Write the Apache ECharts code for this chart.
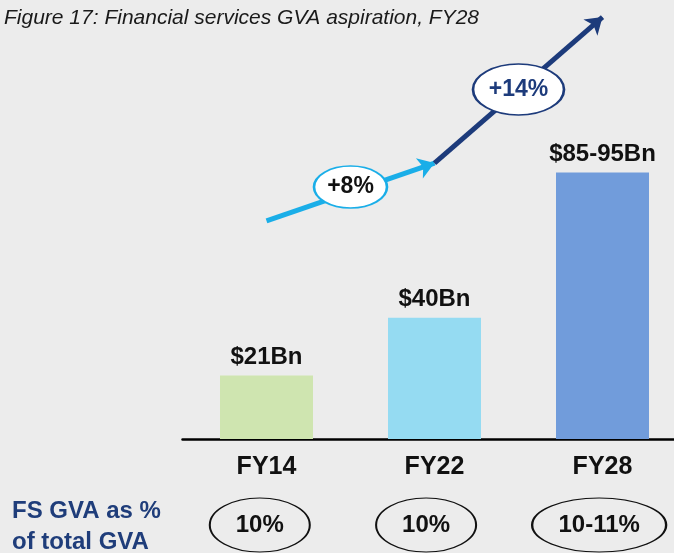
<!DOCTYPE html>
<html>
<head>
<meta charset="utf-8">
<script src="https://cdn.jsdelivr.net/npm/echarts@6/dist/echarts.min.js"></script>
<style>
html,body{margin:0;padding:0;background:#ececec;}
#chart{width:674px;height:553px;}
</style>
</head>
<body>
<div id="chart"></div>
<script>
// ---- data ----
const titleText = 'Figure 17: Financial services GVA aspiration, FY28';
const categories = ['FY14', 'FY22', 'FY28'];
const gvaValues = [21, 40, 88];
const gvaLabels = ['$21Bn', '$40Bn', '$85-95Bn'];
const barColors = ['#cfe5b0', '#95dbf2', '#719cdb'];
const shareLabels = ['10%', '10%', '10-11%'];
const shareX = [-0.04, 0.95, 1.98];
const shareY = -28.4;
const rowLabel = 'FS GVA as %\nof total GVA';
const arrowPoints = [[0, 72], [1, 91.1], [2, 139.3]];
const growthLabels = ['+8%', '+14%'];
const growthPoints = [[0.5, 83.2], [1.5, 115.4]];
const growthColors = ['#1aaee8', '#1d3b7b'];
const growthTextColors = ['#111111', '#1d3b7b'];

const FONT = '"Liberation Sans", Arial, sans-serif';
const chart = echarts.init(document.getElementById('chart'));

const option = {
  backgroundColor: '#ececec',
  animation: false,
  title: {
    text: titleText,
    left: -1,
    top: 3,
    textStyle: { fontFamily: FONT, fontSize: 21, fontStyle: 'italic', fontWeight: 'normal', color: '#1a1a1a' }
  },
  graphic: [{
    type: 'text',
    left: 12,
    top: 496,
    style: { text: rowLabel, font: 'bold 24px ' + FONT, fill: '#1f3d7a', lineHeight: 31 }
  }],
  grid: { left: 182.5, right: -12.5, top: 15, bottom: 114, outerBoundsMode: 'none', containLabel: false },
  xAxis: [{
    type: 'category',
    data: categories,
    axisLine: { lineStyle: { color: '#000', width: 2.5 } },
    axisTick: { show: false },
    axisLabel: { margin: 16, fontFamily: FONT, fontSize: 25, fontWeight: 'bold', color: '#111' }
  }, {
    type: 'value', min: -0.5, max: 2.5, show: false
  }],
  yAxis: { type: 'value', min: 0, max: 140, show: false, splitLine: { show: false } },
  series: [{
    type: 'bar',
    xAxisIndex: 0,
    barWidth: 93,
    data: gvaValues.map((v, i) => ({ value: v, itemStyle: { color: barColors[i] } })),
    label: {
      show: true, position: 'top', distance: 6,
      formatter: p => gvaLabels[p.dataIndex],
      fontFamily: FONT, fontSize: 24, fontWeight: 'bold', color: '#111'
    }
  }, {
    type: 'lines',
    coordinateSystem: 'cartesian2d',
    xAxisIndex: 1,
    symbol: ['none', 'arrow'],
    symbolSize: 16,
    z: 3,
    data: [0, 1].map(i => ({
      coords: [arrowPoints[i], arrowPoints[i + 1]],
      lineStyle: { color: growthColors[i], width: 5, opacity: 1 }
    }))
  }, {
    type: 'scatter',
    xAxisIndex: 1,
    symbol: 'circle',
    z: 5,
    clip: false,
    data: growthPoints.map((p, i) => ({
      value: p,
      symbolSize: i === 0 ? [73, 42] : [91, 51],
      itemStyle: { color: '#ffffff', borderColor: growthColors[i], borderWidth: 2, opacity: 1 },
      label: { color: growthTextColors[i] }
    })),
    label: {
      show: true, position: 'inside',
      formatter: p => growthLabels[p.dataIndex],
      fontFamily: FONT, fontSize: 23, fontWeight: 'bold'
    }
  }, {
    type: 'scatter',
    xAxisIndex: 1,
    symbol: 'circle',
    z: 5,
    clip: false,
    data: shareX.map((x, i) => ({
      value: [x, shareY],
      symbolSize: i === 2 ? [134, 54] : [100, 54]
    })),
    itemStyle: { color: '#ececec', borderColor: '#111', borderWidth: 1.5, opacity: 1 },
    label: {
      show: true, position: 'inside',
      formatter: p => shareLabels[p.dataIndex],
      fontFamily: FONT, fontSize: 24, fontWeight: 'bold', color: '#111'
    }
  }]
};
chart.setOption(option);
</script>
</body>
</html>
